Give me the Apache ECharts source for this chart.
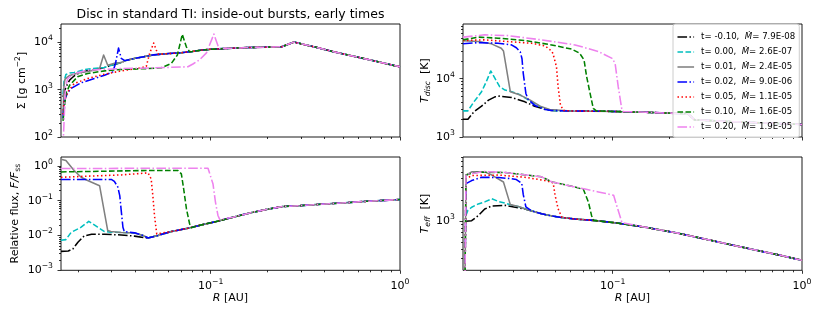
<!DOCTYPE html>
<html><head><meta charset="utf-8">
<script src="https://cdn.jsdelivr.net/npm/echarts@6/dist/echarts.min.js"></script>
<style>html,body{margin:0;padding:0;background:#fff}#c{width:822px;height:316px}</style>
</head><body><div id="c"></div>
<script>
// ---------------- data ----------------
const TIMES = ['-0.10', '0.00', '0.01', '0.02', '0.05', '0.10', '0.20'];
const MDOTS = ['7.9E-08', '2.6E-07', '2.4E-05', '9.0E-06', '1.1E-05', '1.6E-05', '1.9E-05'];

const X_MIN = 0.0162, X_MAX = 1;
const X_MAJOR = [0.1, 1];
const X_MINOR = [0.02, 0.03, 0.04, 0.05, 0.06, 0.07, 0.08, 0.09, 0.2, 0.3, 0.4, 0.5, 0.6, 0.7, 0.8, 0.9];

// Surface density Sigma [g cm^-2]
const SIG_MAJOR = [100, 1000, 10000];
const SIG_MINOR = [200, 300, 400, 500, 600, 700, 800, 900, 2000, 3000, 4000, 5000, 6000, 7000, 8000, 9000, 20000];
const SIG_MAIN = [[0.0275,2950],[0.03,3300],[0.033,3650],[0.036,4200],[0.04,4600],[0.045,5050],[0.05,5450],[0.06,5800],[0.07,6050],[0.08,6450],[0.09,6900],[0.1,7150],[0.13,7550],[0.16,7800],[0.2,7950],[0.237,8070],[0.275,10150],[0.35,8100],[0.45,6300],[0.67,4400],[1.0,3040]];
const SIG_BLACK = [[0.0166,700],[0.017,1000],[0.0175,1300],[0.018,1600],[0.019,1950],[0.02,2200],[0.022,2500],[0.025,2750]];
const SIG_CYAN = [[0.0166,800],[0.0168,1500],[0.0172,2100],[0.018,2250],[0.019,2300],[0.0215,2650],[0.024,2800]];
const SIG_GRAY = [[0.0166,300],[0.0168,1200],[0.017,1650],[0.0175,1850],[0.018,2000],[0.02,2250],[0.022,2400],[0.025,2650],[0.0259,2800],[0.0272,5400],[0.0286,3300],[0.0317,3700]];
const SIG_BLUE = [[0.0166,250],[0.0168,550],[0.0175,850],[0.0183,1060],[0.0207,1400],[0.0243,1720],[0.0275,2030],[0.0304,2380],[0.0314,3500],[0.0326,7600],[0.0337,4600],[0.035,4150]];
const SIG_RED = [[0.0166,300],[0.0168,550],[0.0176,900],[0.019,1350],[0.0224,1720],[0.0275,2130],[0.0337,2500],[0.0413,2820],[0.0457,3100],[0.0476,5850],[0.05,9700],[0.0516,6870],[0.053,5600]];
const SIG_GREEN = [[0.0166,220],[0.0172,830],[0.018,1250],[0.0198,1870],[0.0224,2200],[0.0275,2500],[0.0337,2680],[0.0466,2800],[0.0548,2900],[0.062,3600],[0.0667,5400],[0.0708,14800],[0.0744,8070],[0.0774,6350]];
const SIG_VIOLET = [[0.0166,60],[0.0171,1150],[0.0176,1720],[0.019,2200],[0.0224,2590],[0.0337,2800],[0.05,2900],[0.0758,3050],[0.0806,3500],[0.0875,4300],[0.095,6000],[0.104,15000],[0.1106,7450],[0.1116,7250]];

// Disc temperature T_disc [K]
const TD_MAJOR = [1000, 10000];
const TD_MINOR = [2000, 3000, 4000, 5000, 6000, 7000, 8000, 9000, 20000, 30000, 40000, 50000, 60000, 70000, 80000];
const TD_MAIN = [[0.0476,2850],[0.06,2800],[0.1,2750],[0.15,2650],[0.2,2570],[0.25,2520],[0.27,1980],[0.4,1850],[0.6,1750],[1.0,1640]];
const TD_BLACK = [[0.0162,2020],[0.0172,2020],[0.0185,2700],[0.0203,3380],[0.0221,4290],[0.0239,4890],[0.0253,5030],[0.0292,4780],[0.0344,4010],[0.0387,3380],[0.044,2970]];
const TD_CYAN = [[0.0162,2810],[0.0172,2810],[0.0185,4010],[0.0203,5970],[0.0215,8870],[0.0227,13600],[0.0239,10150],[0.0253,7290],[0.027,6380],[0.0287,6130],[0.0317,5500],[0.0344,4700],[0.0387,3700],[0.044,3050]];
const TD_GRAY = [[0.0162,45000],[0.0195,43400],[0.0229,39700],[0.0258,33400],[0.0265,30000],[0.0288,6000],[0.0325,5240],[0.0367,4290],[0.0414,3380],[0.0465,2970]];
const TD_BLUE = [[0.0162,39700],[0.0195,41700],[0.0248,40700],[0.0292,38100],[0.031,34000],[0.0325,29000],[0.0332,22000],[0.0337,12500],[0.0348,5600],[0.0358,4400],[0.0387,3500],[0.044,2970]];
const TD_RED = [[0.0162,45300],[0.021,46500],[0.028,43400],[0.0373,40700],[0.044,36600],[0.0479,29300],[0.0487,25000],[0.0505,16000],[0.0515,7300],[0.053,3520],[0.055,2850]];
const TD_GREEN = [[0.0162,46500],[0.0195,51800],[0.0248,49700],[0.0344,45300],[0.0476,38100],[0.061,32100],[0.0669,27400],[0.0706,21000],[0.0729,10800],[0.076,5600],[0.079,3090],[0.082,2800]];
const TD_VIOLET = [[0.0162,51800],[0.0211,56700],[0.028,55000],[0.0421,46500],[0.0633,38100],[0.084,29300],[0.0993,22400],[0.103,18400],[0.107,7300],[0.1116,3090],[0.114,2750]];

// Relative flux F/F_ss
const FL_MAJOR = [0.001, 0.01, 0.1, 1];
const FL_MINOR = [0.002, 0.003, 0.004, 0.005, 0.006, 0.007, 0.008, 0.009, 0.02, 0.03, 0.04, 0.05, 0.06, 0.07, 0.08, 0.09, 0.2, 0.3, 0.4, 0.5, 0.6, 0.7, 0.8, 0.9];
const FL_MAIN = [[0.0467,0.0085],[0.0526,0.0100],[0.062,0.0130],[0.0758,0.0162],[0.09,0.0203],[0.1072,0.0252],[0.1312,0.0335],[0.161,0.0445],[0.197,0.0559],[0.241,0.0683],[0.2956,0.0720],[0.362,0.0776],[0.443,0.083],[0.544,0.089],[0.667,0.096],[1.0,0.108]];
const FL_BLACK = [[0.0162,0.0035],[0.0177,0.0036],[0.0187,0.0041],[0.0199,0.0064],[0.0215,0.0098],[0.0235,0.0108],[0.0275,0.0108],[0.0337,0.0104],[0.0396,0.0096],[0.0448,0.0087]];
const FL_CYAN = [[0.0162,0.0073],[0.0172,0.0076],[0.0183,0.0122],[0.0207,0.0174],[0.0227,0.0255],[0.0253,0.0174],[0.0275,0.0130],[0.0295,0.0125],[0.0337,0.0122],[0.0396,0.0118],[0.044,0.0100]];
const FL_GRAY = [[0.0162,1.55],[0.0172,1.43],[0.019,0.74],[0.0207,0.47],[0.0224,0.38],[0.0259,0.27],[0.0286,0.0139],[0.0297,0.0130],[0.0337,0.0122],[0.0396,0.0118],[0.044,0.0100]];
const FL_BLUE = [[0.0162,0.405],[0.030,0.405],[0.031,0.36],[0.0323,0.25],[0.0331,0.14],[0.0337,0.052],[0.0344,0.0173],[0.035,0.0130],[0.0396,0.0119],[0.044,0.0100]];
const FL_RED = [[0.0162,0.47],[0.0224,0.506],[0.0337,0.55],[0.0467,0.63],[0.0485,0.42],[0.0495,0.141],[0.0505,0.0375],[0.0519,0.0111],[0.053,0.0102]];
const FL_GREEN = [[0.0162,0.67],[0.0224,0.69],[0.041,0.73],[0.0672,0.74],[0.07,0.59],[0.0716,0.27],[0.0745,0.058],[0.0774,0.0217],[0.079,0.0168]];
const FL_VIOLET = [[0.0162,0.84],[0.0968,0.86],[0.0988,0.84],[0.1029,0.30],[0.106,0.091],[0.1093,0.0375],[0.1116,0.029]];

// Effective temperature T_eff [K]
const TE_MAJOR = [1000];
const TE_MINOR = [300, 400, 500, 600, 700, 800, 900, 2000, 3000, 4000, 5000, 6000, 7000, 8000];
const TE_MAIN = [[0.0457,1215],[0.0526,1140],[0.0633,1075],[0.0793,1030],[0.1055,946],[0.146,831],[0.219,683],[0.329,539],[0.493,425],[0.74,338],[1.0,281]];
const TE_BLACK = [[0.0168,1000],[0.018,1020],[0.0195,1200],[0.0211,1490],[0.0229,1640],[0.027,1680],[0.0344,1490],[0.0421,1280]];
const TE_CYAN = [[0.0168,1220],[0.0172,1430],[0.018,1580],[0.0195,1760],[0.0211,1880],[0.023,2080],[0.025,1900],[0.0276,1780],[0.0292,1700],[0.0325,1590],[0.0344,1500],[0.0421,1280]];
const TE_GRAY = [[0.0166,150],[0.0168,4470],[0.018,4990],[0.0211,4990],[0.023,4500],[0.0265,3590],[0.0288,1720],[0.0325,1590],[0.0344,1490],[0.0421,1280]];
const TE_BLUE = [[0.0166,150],[0.0168,3400],[0.018,3760],[0.0203,4200],[0.025,4150],[0.0292,4000],[0.031,3890],[0.0331,3450],[0.0337,2400],[0.0348,1600],[0.0373,1400],[0.0421,1280]];
const TE_RED = [[0.0166,150],[0.0168,3960],[0.018,4430],[0.025,4500],[0.0344,4190],[0.044,3760],[0.0485,3500],[0.0497,2300],[0.0515,1500],[0.054,1130]];
const TE_GREEN = [[0.0166,150],[0.0168,4500],[0.018,4800],[0.0195,4930],[0.027,4900],[0.0421,4250],[0.0479,3590],[0.0633,3050],[0.0701,2810],[0.0745,1860],[0.0774,1200],[0.0793,1030]];
const TE_VIOLET = [[0.0166,150],[0.0168,4600],[0.0211,5040],[0.027,4900],[0.0421,4250],[0.0479,3590],[0.0633,3050],[0.0715,2850],[0.084,2600],[0.1012,2330],[0.105,1670],[0.112,960]];

// ---------------- styles / layout ----------------
const FONT = 'DejaVu Sans';
const COLORS = ['#000000', '#00bfbf', '#808080', '#0000ff', '#ff0000', '#008000', '#ee82ee'];
const LW = 1.55;
const DASHDOT = [9.6, 2.4, 1.5, 2.4], DASHED = [5.6, 2.4], DOTTED = [1.5, 2.5];
const DASHES = [DASHDOT, DASHED, 'solid', DASHDOT, DOTTED, DASHED, DASHDOT];

const GRIDS = [
  {left: 61, top: 24, width: 339, height: 113},
  {left: 463, top: 24, width: 339, height: 113},
  {left: 61, top: 157, width: 339, height: 113.3},
  {left: 463, top: 157, width: 339, height: 113.3}
];
const Y_RANGES = [[100, 24500], [1000, 87000], [0.001, 1.8], [203, 8100]];
const Y_MAJORS = [SIG_MAJOR, TD_MAJOR, FL_MAJOR, TE_MAJOR];
const Y_MINORS = [SIG_MINOR, TD_MINOR, FL_MINOR, TE_MINOR];
const Y_NAMES = [
  '{n|\u03A3 [g cm}{s|\u22122}{n|]}',
  '{i|T}{sub|disc}{n|  [K]}',
  '{n|Relative flux, }{i|F/F}{sub2|ss}',
  '{i|T}{sub|eff}{n|  [K]}'
];
const Y_NAME_GAPS = [31, 29, 39, 29];
const SETS = [
  [SIG_BLACK, SIG_CYAN, SIG_GRAY, SIG_BLUE, SIG_RED, SIG_GREEN, SIG_VIOLET],
  [TD_BLACK, TD_CYAN, TD_GRAY, TD_BLUE, TD_RED, TD_GREEN, TD_VIOLET],
  [FL_BLACK, FL_CYAN, FL_GRAY, FL_BLUE, FL_RED, FL_GREEN, FL_VIOLET],
  [TE_BLACK, TE_CYAN, TE_GRAY, TE_BLUE, TE_RED, TE_GREEN, TE_VIOLET]
];
const TAILS = [SIG_MAIN, TD_MAIN, FL_MAIN, TE_MAIN];

const NAMES = TIMES.map((t, i) => 't= ' + t + ',  \u1E40= ' + MDOTS[i]);

function withTail(inner, tail) {
  const last = inner[inner.length - 1][0];
  return inner.concat(tail.filter(p => p[0] > last * 1.0001));
}
function pow10Label(v) {
  const e = Math.round(Math.log10(v));
  return '{b|10}{s|' + (e < 0 ? '\u2212' + (-e) : String(e)) + '}';
}
const FS = 11;
const TICK_RICH = {
  b: {fontSize: FS, fontFamily: FONT, color: '#000'},
  s: {fontSize: 7.7, fontFamily: FONT, color: '#000', padding: [0, 0, 8, 0]}
};
const NAME_RICH = {
  n: {fontSize: FS, fontFamily: FONT, color: '#000'},
  i: {fontSize: FS, fontFamily: FONT, color: '#000', fontStyle: 'italic'},
  s: {fontSize: 7.7, fontFamily: FONT, color: '#000', padding: [0, 0, 8, 0]},
  sub: {fontSize: 7.7, fontFamily: FONT, color: '#000', fontStyle: 'italic', padding: [6, 0, 0, 0]},
  sub2: {fontSize: 7.7, fontFamily: FONT, color: '#000', padding: [6, 0, 0, 0]}
};
const tickLine = {color: '#000', width: 0.8};

const xAxes = [], yAxes = [];
GRIDS.forEach((g, gi) => {
  const bottomRow = gi >= 2;
  xAxes.push({
    type: 'log', logBase: 10, gridIndex: gi, position: 'bottom', min: X_MIN, max: X_MAX,
    axisLine: {show: false},
    axisTick: {show: true, inside: false, length: 3.5, lineStyle: tickLine, customValues: X_MAJOR},
    axisLabel: {show: bottomRow, customValues: X_MAJOR, formatter: pow10Label, rich: TICK_RICH, margin: 7.5},
    splitLine: {show: false}, minorTick: {show: false}, minorSplitLine: {show: false},
    name: bottomRow ? '{i|R}{n| [AU]}' : '', nameLocation: 'middle', nameGap: 22,
    nameTextStyle: {rich: NAME_RICH}
  });
  yAxes.push({
    type: 'log', logBase: 10, gridIndex: gi, position: 'left', min: Y_RANGES[gi][0], max: Y_RANGES[gi][1],
    axisLine: {show: false},
    axisTick: {show: true, inside: false, length: 3.5, lineStyle: tickLine, customValues: Y_MAJORS[gi]},
    axisLabel: {show: true, customValues: Y_MAJORS[gi], formatter: pow10Label, rich: TICK_RICH, margin: 8},
    splitLine: {show: false}, minorTick: {show: false}, minorSplitLine: {show: false},
    name: Y_NAMES[gi], nameLocation: 'middle', nameGap: Y_NAME_GAPS[gi], nameRotate: 90,
    nameTextStyle: {rich: NAME_RICH}
  });
});
GRIDS.forEach((g, gi) => {
  xAxes.push({
    type: 'log', logBase: 10, gridIndex: gi, position: 'bottom', min: X_MIN, max: X_MAX,
    axisLine: {show: false},
    axisTick: {show: true, inside: false, length: 2, lineStyle: tickLine, customValues: X_MINOR},
    axisLabel: {show: false}, splitLine: {show: false}, minorTick: {show: false}
  });
  yAxes.push({
    type: 'log', logBase: 10, gridIndex: gi, position: 'left', min: Y_RANGES[gi][0], max: Y_RANGES[gi][1],
    axisLine: {show: false},
    axisTick: {show: true, inside: false, length: 2, lineStyle: tickLine, customValues: Y_MINORS[gi]},
    axisLabel: {show: false}, splitLine: {show: false}, minorTick: {show: false}
  });
});

const series = [];
SETS.forEach((set, gi) => {
  set.forEach((inner, k) => {
    series.push({
      type: 'line', name: NAMES[k], xAxisIndex: gi, yAxisIndex: gi,
      data: withTail(inner, TAILS[gi]),
      symbol: 'none', showSymbol: false, smooth: false, clip: true, silent: true,
      lineStyle: {color: COLORS[k], width: LW, type: DASHES[k], cap: 'butt', join: 'round'},
      itemStyle: {color: COLORS[k]},
      emphasis: {disabled: true}
    });
  });
});

const chart = echarts.init(document.getElementById('c'), null, {renderer: 'canvas', width: 822, height: 316});
chart.setOption({
  animation: false,
  backgroundColor: '#ffffff',
  textStyle: {fontFamily: FONT},
  title: {
    text: 'Disc in standard TI: inside-out bursts, early times',
    left: 230.5, top: 8.5, textAlign: 'center', padding: 0,
    textStyle: {fontSize: 12.5, fontWeight: 'normal', color: '#000', fontFamily: FONT}
  },
  legend: {
    data: NAMES, orient: 'vertical', left: 673, top: 24,
    itemWidth: 16.6, itemHeight: 10, itemGap: 6,
    padding: [8.5, 4, 6, 3.7],
    backgroundColor: 'rgba(255,255,255,0.8)', borderColor: '#cccccc', borderWidth: 1, borderRadius: 2.5,
    selectedMode: false,
    itemStyle: {opacity: 0},
    lineStyle: {width: LW},
    formatter: function (name) {
      const i = NAMES.indexOf(name);
      return '{n|t= ' + TIMES[i] + ',  }{m|\u1E40}{n|= ' + MDOTS[i] + '}';
    },
    textStyle: {
      fontSize: 8.6, color: '#000', fontFamily: FONT, padding: [0, 0, 0, 2],
      rich: {
        n: {fontSize: 8.6, color: '#000', fontFamily: FONT},
        m: {fontSize: 8.6, color: '#000', fontFamily: FONT, fontStyle: 'italic'}
      }
    }
  },
  grid: GRIDS.map(g => Object.assign({}, g, {
    show: true, borderColor: '#000', borderWidth: 0.9, backgroundColor: 'rgba(0,0,0,0)',
    containLabel: false, outerBoundsMode: 'none'
  })),
  xAxis: xAxes,
  yAxis: yAxes,
  series: series
});
</script></body></html>
